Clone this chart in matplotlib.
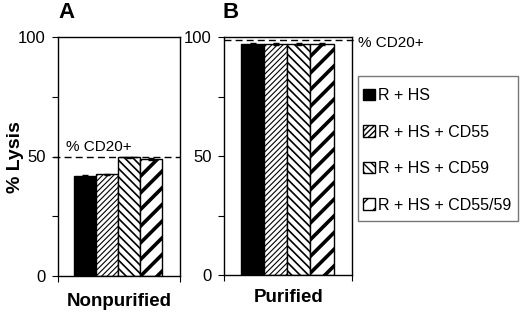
import matplotlib
matplotlib.use("Agg")
import matplotlib.pyplot as plt
from matplotlib.patches import Rectangle
import numpy as np

plt.rcParams['font.family'] = ['Liberation Sans', 'DejaVu Sans']

series = ["R + HS", "R + HS + CD55", "R + HS + CD59", "R + HS + CD55/59"]
nonpurified = [42, 42.5, 49.6, 48.8]
nonpurified_err = [0.4, 0.3, 0.3, 0.4]
purified = [97.2, 97.0, 97.0, 97.0]
purified_err = [0.3, 0.3, 0.3, 0.3]
cd20_nonpurified = 50
cd20_purified = 98.7
panel_titles = ["A", "B"]
group_labels = ["Nonpurified", "Purified"]

hatches = [None, "//////", "\\\\\\\\", "//"]
hatch_lw = [1.0, 0.8, 1.2, 2.6]
colors = ["black", "white", "white", "white"]

fig = plt.figure(figsize=(5.2, 3.15), dpi=100)
axA = fig.add_axes([58/520, 39/315, 122/520, 239/315])
axB = fig.add_axes([224/520, 40/315, 128/520, 238/315])

def draw(ax, vals, errs):
    bars = []
    for i, (v, e) in enumerate(zip(vals, errs)):
        b = ax.bar(i, v, width=1.0, color=colors[i], edgecolor="black",
                   linewidth=1.0, hatch=hatches[i], yerr=e, capsize=2.5,
                   error_kw=dict(elinewidth=1, capthick=1, ecolor="black"),
                   label=series[i])
        for p in b.patches:
            try:
                p.set_hatch_linewidth(hatch_lw[i])
            except Exception:
                pass
        bars.append(b)
    ax.set_xlim(-1.25, 4.3)
    ax.set_ylim(0, 100)
    ax.set_yticks([0, 50, 100])
    ax.set_yticks([25, 75], minor=True)
    ax.tick_params(axis='y', which='both', direction='out', length=4, width=0.8,
                   labelsize=12, pad=5)
    ax.set_xticks([-1.25, 4.3])
    ax.set_xticklabels([])
    ax.tick_params(axis='x', direction='out', length=4, width=0.8)
    for s in ax.spines.values():
        s.set_linewidth(1.0)
    return bars

barsA = draw(axA, nonpurified, nonpurified_err)
draw(axB, purified, purified_err)

# CD20+ reference lines
axA.plot([-0.04, 1.0], [cd20_nonpurified]*2, transform=axA.get_yaxis_transform(),
         color="black", linestyle=(0, (5, 3)), linewidth=1.0, clip_on=False)
axA.text(0.065, cd20_nonpurified + 1.2, "% CD20+", transform=axA.get_yaxis_transform(),
         fontsize=11, ha="left", va="bottom")
axB.plot([0.0, 1.02], [cd20_purified]*2, transform=axB.get_yaxis_transform(),
         color="black", linestyle=(0, (5, 3)), linewidth=1.0, clip_on=False)
axB.text(1.047, 97.3, "% CD20+", transform=axB.get_yaxis_transform(),
         fontsize=11, ha="left", va="center")

# titles and labels
fig.text(58/520, 1 - 13/315, panel_titles[0], fontsize=16, fontweight="bold", ha="left", va="center")
fig.text(222/520, 1 - 13/315, panel_titles[1], fontsize=16, fontweight="bold", ha="left", va="center")
fig.text(119/520, 1 - 301/315, group_labels[0], fontsize=13.5, fontweight="bold", ha="center", va="center")
fig.text(289/520, 1 - 298/315, group_labels[1], fontsize=13.5, fontweight="bold", ha="center", va="center")
fig.text(15/520, 1 - 157/315, "% Lysis", fontsize=14, fontweight="bold", rotation=90,
         ha="center", va="center")

# legend box
fig.patches.append(Rectangle((358/520, 1 - 221/315), 160/520, 145/315,
                             transform=fig.transFigure, fill=False,
                             edgecolor="#777777", linewidth=1.0))
leg = fig.legend(handles=barsA, labels=series, loc="upper left",
                 bbox_to_anchor=(363/520, 1 - 88/315), frameon=False,
                 fontsize=11.5, handlelength=0.75, handleheight=0.75, handletextpad=0.2,
                 labelspacing=1.35, borderpad=0, borderaxespad=0)

fig.savefig("out.png", dpi=100)
